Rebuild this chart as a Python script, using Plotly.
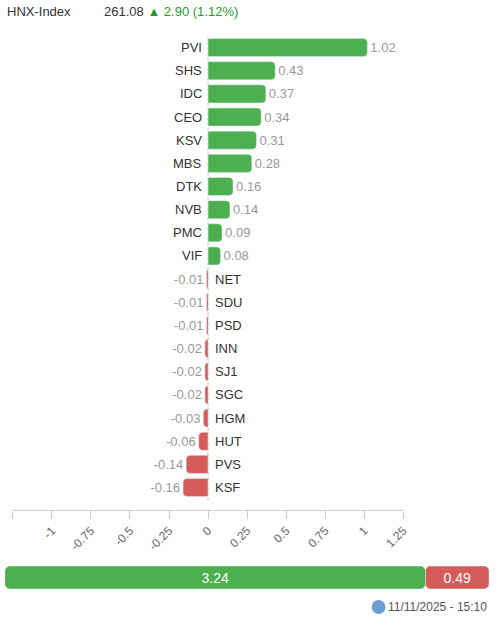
"""HNX-Index contributors chart (top movers by index points)."""

import plotly.graph_objects as go

# --- data -------------------------------------------------------------------
index_name = "HNX-Index"
index_value = "261.08"
index_change = "▲ 2.90 (1.12%)"
timestamp = "11/11/2025 - 15:10"

tickers = [
    "PVI", "SHS", "IDC", "CEO", "KSV", "MBS", "DTK", "NVB", "PMC", "VIF",
    "NET", "SDU", "PSD", "INN", "SJ1", "SGC", "HGM", "HUT", "PVS", "KSF",
]
points = [
    1.02, 0.43, 0.37, 0.34, 0.31, 0.28, 0.16, 0.14, 0.09, 0.08,
    -0.01, -0.01, -0.01, -0.02, -0.02, -0.02, -0.03, -0.06, -0.14, -0.16,
]

tick_values = [-1.25, -1, -0.75, -0.5, -0.25, 0, 0.25, 0.5, 0.75, 1, 1.25]
tick_labels = ["", "-1", "-0.75", "-0.5", "-0.25", "0", "0.25", "0.5", "0.75", "1", "1.25"]

gain_total = 3.24
loss_total = 0.49

GREEN = "#4caf50"
RED = "#d65c5a"
FONT = "Arial, Liberation Sans, sans-serif"
W, H = 501, 618

fig = go.Figure()

# main contributor bars
fig.add_trace(
    go.Bar(
        x=points,
        y=tickers,
        orientation="h",
        marker=dict(color=[GREEN if v >= 0 else RED for v in points], cornerradius=4),
        text=[f"{v:.2f}" for v in points],
        textposition="outside",
        constraintext="none",
        outsidetextfont=dict(color="#999999", size=13, family=FONT),
        cliponaxis=False,
        hoverinfo="skip",
        showlegend=False,
    )
)

# ticker names sit on the opposite side of zero
for t, v in zip(tickers, points):
    fig.add_annotation(
        x=0, y=t, xref="x", yref="y",
        text=t,
        showarrow=False,
        xanchor="right" if v >= 0 else "left",
        xshift=-4 if v >= 0 else 5,
        font=dict(color="#333333", size=13, family=FONT),
    )

# summary bar: gains vs losses
fig.add_trace(
    go.Bar(
        x=[-gain_total], base=[gain_total], y=[0],
        orientation="h", width=1,
        marker=dict(color=GREEN, cornerradius=5),
        text=[f"{gain_total:.2f}"],
        textposition="inside", insidetextanchor="middle", textangle=0,
        insidetextfont=dict(color="white", size=14, family=FONT),
        xaxis="x2", yaxis="y2",
        hoverinfo="skip", showlegend=False,
    )
)
fig.add_trace(
    go.Bar(
        x=[loss_total], base=[gain_total], y=[0],
        orientation="h", width=1,
        marker=dict(color=RED, cornerradius=5),
        text=[f"{loss_total:.2f}"],
        textposition="inside", insidetextanchor="middle", textangle=0,
        insidetextfont=dict(color="white", size=14, family=FONT),
        xaxis="x2", yaxis="y2",
        hoverinfo="skip", showlegend=False,
    )
)

# dashed zero line
fig.add_shape(
    type="line", xref="x", yref="y domain",
    x0=0, x1=0, y0=0.02, y1=1,
    line=dict(color="#bbbbbb", width=1, dash="3px,2px"),
    layer="below",
)

# header
fig.add_annotation(
    x=5 / W, y=1 - 12 / H, xref="paper", yref="paper",
    text=index_name, showarrow=False, xanchor="left", yanchor="middle",
    font=dict(color="#333333", size=13, family=FONT),
)
fig.add_annotation(
    x=103 / W, y=1 - 12 / H, xref="paper", yref="paper",
    text=f"{index_value} <span style='color:#2a9a2a'>{index_change}</span>",
    showarrow=False, xanchor="left", yanchor="middle",
    font=dict(color="#333333", size=13, family=FONT),
)

# footer timestamp with globe-ish dot
fig.add_shape(
    type="circle", xref="paper", yref="paper",
    x0=377 / W, x1=391 / W, y0=1 - 614 / H, y1=1 - 600 / H,
    fillcolor="#6a9fd4", line=dict(width=0),
)
fig.add_annotation(
    x=496 / W, y=1 - 607 / H, xref="paper", yref="paper",
    text=timestamp, showarrow=False, xanchor="right", yanchor="middle",
    font=dict(color="#555555", size=12, family=FONT),
)

fig.update_layout(
    autosize=True,
    margin=dict(l=0, r=0, t=0, b=0),
    paper_bgcolor="white",
    plot_bgcolor="white",
    barmode="overlay",
    bargap=0.22,
    font=dict(family=FONT),
    xaxis=dict(
        domain=[13 / W, 409 / W],
        range=[-1.25, 1.25],
        tickvals=tick_values,
        ticktext=tick_labels,
        tickangle=-45,
        ticks="outside",
        ticklen=8,
        tickcolor="#cccccc",
        showline=True,
        linecolor="#cccccc",
        showgrid=False,
        zeroline=False,
        tickfont=dict(color="#666666", size=12, family=FONT),
        fixedrange=True,
    ),
    yaxis=dict(
        domain=[1 - 510 / H, 1 - 36 / H],
        type="category",
        range=[19.97, -0.5],
        showticklabels=False,
        showgrid=False,
        zeroline=False,
        showline=False,
        fixedrange=True,
    ),
    xaxis2=dict(
        domain=[5 / W, 496 / W],
        range=[0, gain_total + loss_total],
        anchor="y2",
        visible=False,
        fixedrange=True,
    ),
    yaxis2=dict(
        domain=[1 - 589 / H, 1 - 566 / H],
        range=[-0.5, 0.5],
        anchor="x2",
        visible=False,
        fixedrange=True,
    ),
)

fig.write_html(
    "out.html",
    config={"displayModeBar": False, "responsive": True},
    default_width="100%",
    default_height="100%",
    post_script=(
        "document.documentElement.style.height='100%';"
        "document.body.style.height='100%';"
        "document.body.style.margin='0';"
        "document.body.style.overflow='hidden';"
        "Plotly.Plots.resize(document.getElementById('{plot_id}'));"
    ),
)
